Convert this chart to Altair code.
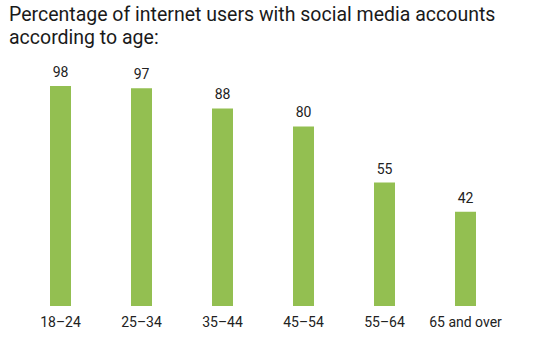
import altair as alt
import pandas as pd

ages = ["18–24", "25–34", "35–44", "45–54", "55–64", "65 and over"]
values = [98, 97, 88, 80, 55, 42]

df = pd.DataFrame({"age": ages, "value": values})

base = alt.Chart(df).encode(
    x=alt.X("age:N", sort=ages,
            scale=alt.Scale(paddingInner=0.74, paddingOuter=0.37),
            axis=alt.Axis(title=None, domain=False, ticks=False, labelAngle=0,
                          labelFont="Roboto", labelFontSize=14, labelColor="#222",
                          labelPadding=9)),
    y=alt.Y("value:Q", scale=alt.Scale(domain=[0, 100]), axis=None),
)

bars = base.mark_bar(color="#93BF51", size=21)
labels = base.mark_text(baseline="bottom", dy=-6, font="Roboto", fontSize=14, color="#222").encode(text="value:Q")

chart = (bars + labels).properties(
    width=486, height=224.5,
    autosize=alt.AutoSizeParams(type="none"),
    padding={"left": 20, "top": 81.5, "right": 28, "bottom": 46},
    title=alt.TitleParams(
        text=["Percentage of internet users with social media accounts", "according to age:"],
        anchor="start", frame="group", dx=-11, offset=17,
        font="Roboto", fontSize=19.5, fontWeight="normal", color="#1a1a1a", lineHeight=23,
    ),
).configure_view(stroke=None)

chart.save("out.html", embed_options={"renderer": "svg", "actions": False})
